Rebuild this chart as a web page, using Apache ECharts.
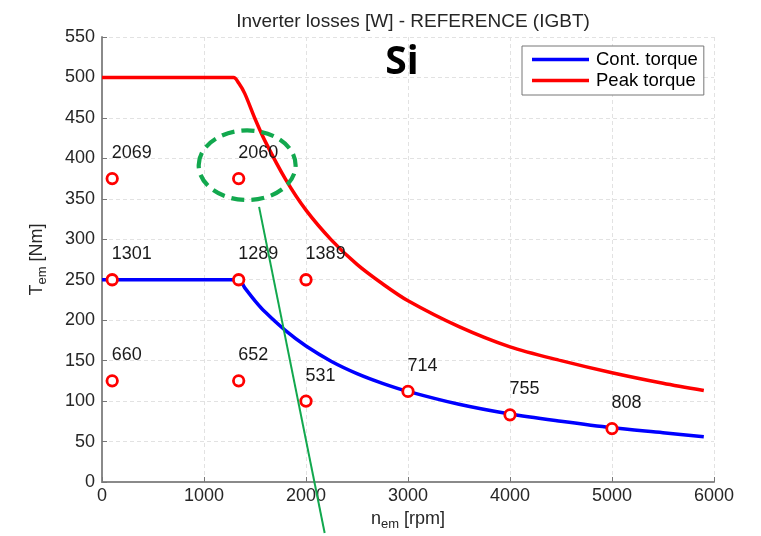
<!DOCTYPE html>
<html>
<head>
<meta charset="utf-8">
<script src="https://cdn.jsdelivr.net/npm/echarts@6/dist/echarts.min.js"></script>
<style>html,body{margin:0;padding:0;background:#fff}#c{width:761px;height:536px}</style>
</head>
<body>
<div id="c"></div>
<script>
// ---- data ----
const titleText = 'Inverter losses [W] - REFERENCE (IGBT)';
const xTicks = [0, 1000, 2000, 3000, 4000, 5000, 6000];
const yTicks = [0, 50, 100, 150, 200, 250, 300, 350, 400, 450, 500, 550];

const contSpeed  = [0, 1340, 1400, 1500, 1600, 1800, 2000, 2250, 2500, 2750, 3000, 3500, 4000, 4500, 5000, 5500, 5900];
const contTorque = [250, 250, 240, 224, 210, 187, 168, 149, 134, 122, 112, 96, 84, 75, 67, 61, 56];

const peakSpeed  = [0, 1290, 1340, 1400, 1500, 1600, 1800, 2000, 2250, 2500, 2750, 3000, 3500, 4000, 4500, 5000, 5500, 5900];
const peakTorque = [500, 500, 493, 480, 449, 421, 374, 336, 299, 269, 245, 224, 192, 167, 150, 135, 122, 113];

const opSpeed  = [100, 1340, 100, 1340, 2000, 100, 1340, 2000, 3000, 4000, 5000];
const opTorque = [375, 375, 250, 250, 250, 125, 125, 100, 112, 83, 66];
const opLoss   = [2069, 2060, 1301, 1289, 1389, 660, 652, 531, 714, 755, 808];

const ellipseCenter = [1423, 391.5];   // rpm, Nm
const ellipseRadius = [475, 43];       // rpm, Nm
const greenLineSpeed  = [1540, 2183];
const greenLineTorque = [340, -63];

// ---- chart ----
const chart = echarts.init(document.getElementById('c'), null, {renderer: 'canvas', width: 761, height: 536});
const font = 'Liberation Sans, Arial, Helvetica, sans-serif';
const txt = '#262626';
const fs = 18;

const option = {
  animation: false,
  backgroundColor: '#fff',
  title: {
    text: titleText,
    left: 408, top: 7,
    textAlign: 'center',
    textStyle: {fontFamily: font, fontSize: 19, fontWeight: 'normal', color: txt}
  },
  graphic: [{
    type: 'text', x: 402, y: 63,
    style: {text: 'Si', font: 'bold 39px "Open Sans", "Noto Sans", sans-serif', fill: '#000',
            align: 'center', verticalAlign: 'middle'}
  }],
  legend: {
    data: ['Cont. torque', 'Peak torque'],
    orient: 'vertical',
    left: 522, top: 46,
    padding: [4, 6, 5, 10],
    itemWidth: 57, itemHeight: 3.5, itemGap: 2,
    icon: 'rect',
    backgroundColor: '#fff',
    borderColor: '#777', borderWidth: 1,
    textStyle: {fontFamily: font, fontSize: 18.5, color: '#000', padding: [0,0,0,2]}
  },
  grid: {left: 102, top: 37, width: 612, height: 448, containLabel: false},
  xAxis: {
    type: 'value', min: 0, max: 6000, interval: 1000,
    name: '{n|n}{s|em}{n| [rpm]}',
    nameLocation: 'middle', nameGap: 26,
    nameTextStyle: {rich: {
      n: {fontFamily: font, fontSize: fs, color: txt},
      s: {fontFamily: font, fontSize: 13, color: txt, verticalAlign: 'bottom', padding: [10,0,0,0]}
    }},
    axisLine: {show: true, onZero: false, lineStyle: {color: '#8a8a8a', width: 2}},
    axisTick: {show: true, inside: true, length: 5, lineStyle: {color: '#777'}},
    axisLabel: {fontFamily: font, fontSize: fs, color: txt, margin: 5,
      formatter: v => xTicks.includes(v) ? String(v) : ''},
    splitLine: {show: true, lineStyle: {color: '#e2e2e2', type: [4, 3], width: 1}}
  },
  yAxis: {
    type: 'value', min: 0, max: 550, interval: 50,
    name: '{n|T}{s|em}{n| [Nm]}',
    nameLocation: 'middle', nameGap: 53, nameRotate: 90,
    nameTextStyle: {rich: {
      n: {fontFamily: font, fontSize: fs, color: txt},
      s: {fontFamily: font, fontSize: 13, color: txt, verticalAlign: 'bottom', padding: [10,0,0,0]}
    }},
    axisLine: {show: true, onZero: false, lineStyle: {color: '#8a8a8a', width: 2}},
    axisTick: {show: true, inside: true, length: 5, lineStyle: {color: '#777'}},
    axisLabel: {fontFamily: font, fontSize: fs, color: txt, margin: 7,
      formatter: v => yTicks.includes(v) ? String(v) : ''},
    splitLine: {show: true, lineStyle: {color: '#e2e2e2', type: [4, 3], width: 1}}
  },
  series: [
    {
      name: 'Cont. torque', type: 'line', showSymbol: false, smooth: 0.3,
      data: contSpeed.map((s, i) => [s, contTorque[i]]),
      lineStyle: {color: '#0000ff', width: 3.5}, itemStyle: {color: '#0000ff'}, z: 3
    },
    {
      name: 'Peak torque', type: 'line', showSymbol: false, smooth: 0.3,
      data: peakSpeed.map((s, i) => [s, peakTorque[i]]),
      lineStyle: {color: '#ff0000', width: 3.5}, itemStyle: {color: '#ff0000'}, z: 3
    },
    {
      name: 'points', type: 'scatter', symbol: 'circle', symbolSize: 10.5,
      data: opSpeed.map((s, i) => ({value: [s, opTorque[i]], loss: opLoss[i]})),
      itemStyle: {color: '#fff', borderColor: '#ff0000', borderWidth: 2.8, opacity: 1},
      label: {
        show: true, position: [6.25, -18.75], align: 'left', verticalAlign: 'middle',
        formatter: p => String(p.data.loss),
        fontFamily: font, fontSize: fs, color: '#1a1a1a'
      },
      z: 5
    },
    {
      name: 'ellipse', type: 'custom', clip: false,
      data: [[ellipseCenter[0], ellipseCenter[1], ellipseRadius[0], ellipseRadius[1]]],
      renderItem: function (params, api) {
        const c = api.coord([api.value(0), api.value(1)]);
        const s = api.size([api.value(2), api.value(3)]);
        return {
          type: 'ellipse',
          shape: {cx: c[0], cy: c[1], rx: s[0], ry: s[1]},
          style: {fill: 'none', stroke: '#12a84e', lineWidth: 4.2, lineDash: [13, 7]}
        };
      },
      z: 6
    },
    {
      name: 'green', type: 'line', showSymbol: false, clip: false,
      data: greenLineSpeed.map((s, i) => [s, greenLineTorque[i]]),
      lineStyle: {color: '#12a84e', width: 2}, z: 6
    }
  ]
};
chart.setOption(option);
</script>
</body>
</html>
